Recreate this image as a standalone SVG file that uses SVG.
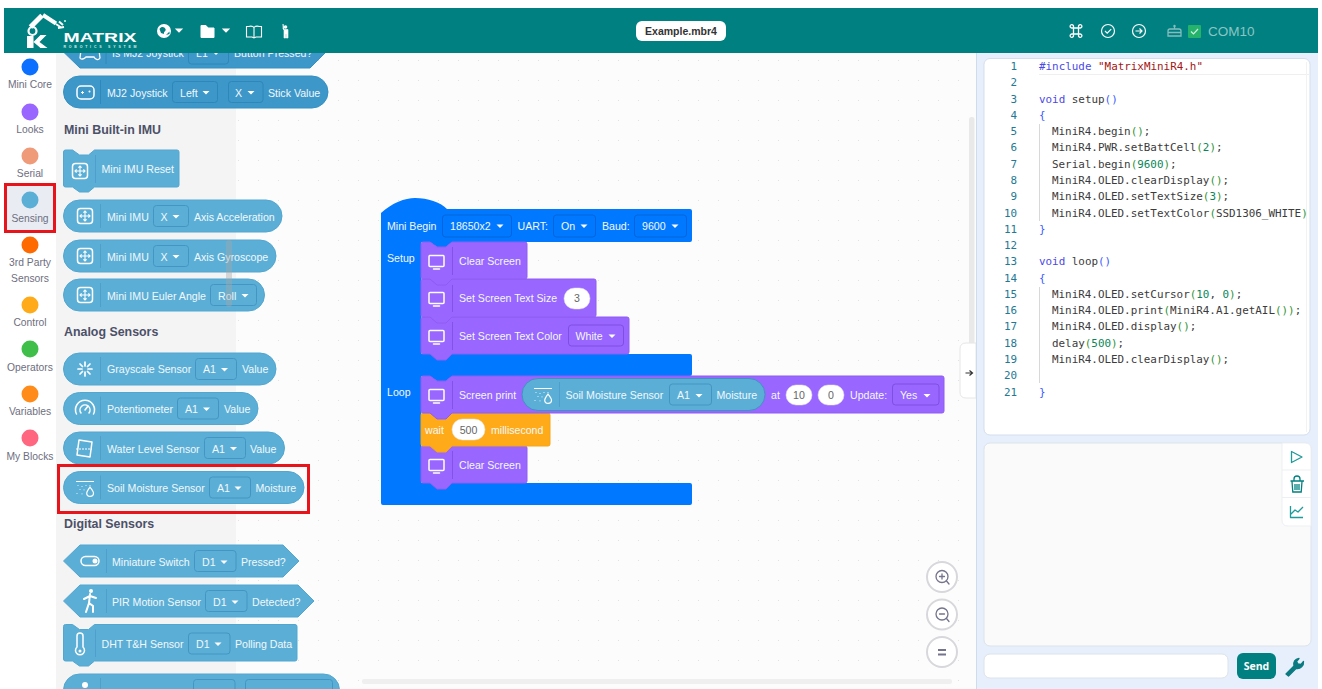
<svg xmlns="http://www.w3.org/2000/svg" width="1322" height="689" viewBox="0 0 1322 689">
<style>
text{font-family:"Liberation Sans",Arial,sans-serif}
.t{font-size:10.6px;fill:#f2f8fc}
.h{font-size:12.4px;font-weight:700;fill:#4c5068}
.r{font-size:10.3px;fill:#6e6e80;text-anchor:middle}
.s{fill:#5bafd6;stroke:#52a6d0;stroke-width:1}
.sd{fill:#3d97c9;stroke:#3690c2;stroke-width:1}
.d{fill:#5bafd6;stroke:#4595c2;stroke-width:1}
.dd{fill:#3d97c9;stroke:#2f86b8;stroke-width:1}
.v{stroke:#4f9fca;stroke-width:1}
.p{fill:#9966ff;stroke:#8f5cf2;stroke-width:1}
.pd{fill:#9966ff;stroke:#7f4fe0;stroke-width:1}
.pv{stroke:#8452e8;stroke-width:1}
.b{fill:#0078ff}
.bd{fill:#0078ff;stroke:#0066da;stroke-width:1}
.i{fill:#fff;stroke:#e4e4ee;stroke-width:.5}
.n{font-size:10.6px;fill:#666;text-anchor:middle}
.c{font-family:"DejaVu Sans Mono","Liberation Mono",monospace;font-size:10.9px;fill:#3b3b3b}
.ln{font-family:"DejaVu Sans Mono","Liberation Mono",monospace;font-size:10.9px;fill:#237893;text-anchor:end}
.kw{fill:#4a4ae8}.st{fill:#a31515}.gr{fill:#319331}.nm{fill:#098658}.bl{fill:#3a5cff}
.w{fill:none;stroke:#fff;stroke-width:1.5;stroke-linecap:round;stroke-linejoin:round}
.red{fill:none;stroke:#e8141c;stroke-width:3}
.z{fill:#fff;stroke:#d8d8dc;stroke-width:2}
.zi{fill:none;stroke:#74748c;stroke-width:1.3;stroke-linecap:round}
.tl{fill:none;stroke:#1f9a9a;stroke-width:1.3;stroke-linejoin:round}
</style>
<defs>
<pattern id="dots" x="18" y="0" width="20" height="20" patternUnits="userSpaceOnUse"><rect width="1" height="1" fill="#e2e2e2"/></pattern>
<path id="caret" d="M-3.500-1.600h7l-3.500 3.600z" fill="#fff"/>
<path id="hcaret" d="M-4.200-2h8.400l-4.200 4.200z" fill="#fff"/>
<g id="mon"><rect x="-7.500" y="-6.500" width="15" height="11" rx="1" class="w"/><path d="M-3 7h6" class="w"/></g>
<g id="imu"><rect x="-7.500" y="-7.500" width="15" height="15" rx="3" class="w"/><path d="M0-5V5M-5 0H5M-1.600-3.400 0-5 1.600-3.400M-1.600 3.400 0 5 1.600 3.400M-3.400-1.600-5 0-3.400 1.600M3.400-1.600 5 0 3.400 1.600" fill="none" stroke="#fff" stroke-width="1.100"/></g>
<g id="soil"><path d="M-9-6.500H9" stroke="#fff" stroke-width="1"/><path d="M-7-3v.8M-3-2v.8M1-3v.8M-5 1v.8M-1 1.500v.8M-8 5v.8M-3 5.500v.8M5-3v.8" stroke="#fff" stroke-width="1" stroke-dasharray="1 1"/><path d="M5-1C7 2 8.500 3.500 8.500 5a3.400 3.400 0 0 1-6.800 0C1.700 3.500 3 2 5-1z" fill="none" stroke="#fff" stroke-width="1.200"/></g>
</defs>

<rect width="1322" height="689" fill="#fff"/>
<g id="canvas"><rect x="236" y="53" width="740" height="636" fill="#fcfcfc"/><rect x="236" y="53" width="740" height="636" fill="url(#dots)"/>
<rect x="969" y="117" width="5.500" height="232" rx="2.500" fill="#e9e9e9"/>
<rect x="362" y="679" width="590" height="5" rx="2" fill="#efefef"/></g>
<rect x="56" y="53" width="180" height="636" fill="#f4f4f4"/>

<g id="rail">
<circle cx="30" cy="67" r="8.500" fill="#0b6fff"/><text class="r" x="30" y="88">Mini Core</text>
<circle cx="30" cy="112" r="8.500" fill="#9966ff"/><text class="r" x="30" y="133">Looks</text>
<circle cx="30" cy="156" r="8.500" fill="#ef9a78"/><text class="r" x="30" y="177">Serial</text>
<rect x="5" y="184" width="50" height="47" fill="#e9edf3"/>
<circle cx="30" cy="200" r="8.500" fill="#5bafd6"/><text class="r" x="30" y="222">Sensing</text>
<circle cx="30" cy="245" r="8.500" fill="#ff6a00"/><text class="r" x="30" y="266">3rd Party</text><text class="r" x="30" y="282">Sensors</text>
<circle cx="30" cy="305" r="8.500" fill="#ffab19"/><text class="r" x="30" y="326">Control</text>
<circle cx="30" cy="349" r="8.500" fill="#3fbf4a"/><text class="r" x="30" y="371">Operators</text>
<circle cx="30" cy="394" r="8.500" fill="#ff8c1a"/><text class="r" x="30" y="415">Variables</text>
<circle cx="30" cy="438" r="8.500" fill="#ff6680"/><text class="r" x="30" y="460">My Blocks</text>
<rect class="red" x="5.500" y="184.500" width="49" height="47"/>
</g>

<g id="palette">
<g id="b-isj"><path class="sd" d="M63.500 52 80 36H310L326 52 310 68H80z"/><path d="M106 44V64" stroke="#3088ba"/><text class="t" x="112" y="57">Is MJ2 Joystick</text><rect class="dd" x="188.500" y="43" width="40" height="21" rx="3"/><text class="t" x="196" y="57">L1</text><use href="#caret" x="216" y="53"/><text class="t" x="234" y="57">Button Pressed?</text><path d="M81 50c3-2 5-1 7 1h4c2-2 5-3 7-1l1 8c-2 3-5 1-6-1h-8c-2 2-5 3-6 1z" fill="none" stroke="#fff" stroke-width="1.300"/></g>
<g id="b-j2"><rect class="sd" x="63.500" y="76" width="264.500" height="32" rx="16"/><path d="M100.500 80V104" stroke="#3088ba"/><rect x="77" y="86" width="17" height="13" rx="4" class="w"/><path d="M81 92.500h3M82.500 91v3" stroke="#fff"/><circle cx="89.500" cy="91.500" r="1" fill="#fff"/>
<text class="t" x="107" y="96.500">MJ2 Joystick</text><rect class="dd" x="172.500" y="81.500" width="45" height="21" rx="3"/><text class="t" x="180" y="96.500">Left</text><use href="#caret" x="206" y="92.500"/><rect class="dd" x="228.500" y="81.500" width="34.500" height="21" rx="3"/><text class="t" x="235" y="96.500">X</text><use href="#caret" x="251" y="92.500"/><text class="t" x="268" y="96.500">Stick Value</text></g>
<text class="h" x="64" y="133.500">Mini Built-in IMU</text>
<g id="b-reset"><path class="s" d="M63.500 152q0-2 2-2h7l7 5h9l6-5H177q2 0 2 2V185q0 2-2 2H94.500l-6 5h-9l-7-5H65.500q-2 0-2-2z"/><path class="v" d="M95.500 155V183"/><use href="#imu" x="80" y="171"/><text class="t" x="101.500" y="173">Mini IMU Reset</text></g>
<g id="b-acc"><rect class="s" x="63.500" y="200" width="218.500" height="32" rx="16"/><path class="v" d="M100.500 204V228"/><use href="#imu" x="85" y="216"/><text class="t" x="107" y="220.500">Mini IMU</text><rect class="d" x="153.500" y="205.500" width="35" height="21" rx="3"/><text class="t" x="160.500" y="220.500">X</text><use href="#caret" x="176" y="216.500"/><text class="t" x="194" y="220.500">Axis Acceleration</text></g>
<g id="b-gyr"><rect class="s" x="63.500" y="240" width="212.500" height="32" rx="16"/><path class="v" d="M100.500 244V268"/><use href="#imu" x="85" y="256"/><text class="t" x="107" y="260.500">Mini IMU</text><rect class="d" x="153.500" y="245.500" width="35" height="21" rx="3"/><text class="t" x="160.500" y="260.500">X</text><use href="#caret" x="176" y="256.500"/><text class="t" x="194" y="260.500">Axis Gyroscope</text></g>
<g id="b-eul"><rect class="s" x="63.500" y="279" width="201" height="32" rx="16"/><path class="v" d="M100.500 283V307"/><use href="#imu" x="85" y="295"/><text class="t" x="107" y="299.500">Mini IMU Euler Angle</text><rect class="d" x="210.500" y="284.500" width="46" height="21" rx="3"/><text class="t" x="218" y="299.500">Roll</text><use href="#caret" x="245" y="295.500"/></g>
<text class="h" x="64" y="336">Analog Sensors</text>
<g id="b-gray"><rect class="s" x="63.500" y="353" width="212.500" height="32" rx="16"/><path class="v" d="M100.500 357V381"/><path d="M85 362v4M85 372v4M78 369h4M88 369h4M80 364l2.500 2.500M87.500 371.500 90 374M80 374l2.500-2.500M87.500 366.500 90 364" stroke="#fff" stroke-width="1.700" stroke-linecap="round"/><text class="t" x="107" y="373">Grayscale Sensor</text><rect class="d" x="195.500" y="358.500" width="41" height="21" rx="3"/><text class="t" x="203" y="373">A1</text><use href="#caret" x="224.500" y="369.500"/><text class="t" x="242" y="373">Value</text></g>
<g id="b-pot"><rect class="s" x="63.500" y="392.500" width="194.500" height="32" rx="16"/><path class="v" d="M100.500 396.500V420.500"/><path d="M76.500 414a9.500 9.500 0 1 1 17 0M81 413a5 5 0 1 1 8 0" class="w"/><path d="M85 410l3-4" class="w"/><text class="t" x="107" y="412.500">Potentiometer</text><rect class="d" x="177.500" y="398" width="41" height="21" rx="3"/><text class="t" x="185" y="412.500">A1</text><use href="#caret" x="206.500" y="409"/><text class="t" x="224" y="412.500">Value</text></g>
<g id="b-wat"><rect class="s" x="63.500" y="432" width="221" height="32" rx="16"/><path class="v" d="M100.500 436V460"/><path d="M79 440l13 2-2 15-13-2z" class="w"/><path d="M76 449h16" fill="none" stroke="#fff" stroke-width="1.200" stroke-dasharray="2 1"/><text class="t" x="107" y="452.500">Water Level Sensor</text><rect class="d" x="204.500" y="437.500" width="41" height="21" rx="3"/><text class="t" x="212" y="452.500">A1</text><use href="#caret" x="233.500" y="448.500"/><text class="t" x="250" y="452.500">Value</text></g>
<g id="b-soil"><rect class="s" x="63.500" y="471.500" width="240.500" height="32" rx="16"/><path class="v" d="M100.500 475.500V499.500"/><use href="#soil" x="85" y="488"/><text class="t" x="107" y="491.500">Soil Moisture Sensor</text><rect class="d" x="209.500" y="477" width="41" height="21" rx="3"/><text class="t" x="217" y="491.500">A1</text><use href="#caret" x="238" y="488"/><text class="t" x="255.500" y="491.500">Moisture</text></g>
<rect class="red" x="58.500" y="465.500" width="250" height="47"/>
<text class="h" x="64" y="528">Digital Sensors</text>
<g id="b-sw"><path class="s" d="M63.500 561 80 545H283L299 561 283 577H80z"/><path class="v" d="M106.500 549V573"/><rect x="81" y="556.500" width="18" height="9" rx="4.500" class="w"/><circle cx="95" cy="561" r="2.500" fill="#fff"/><text class="t" x="112" y="565.500">Miniature Switch</text><rect class="d" x="194.500" y="550.500" width="41.500" height="21" rx="3"/><text class="t" x="202" y="565.500">D1</text><use href="#caret" x="224" y="562"/><text class="t" x="241" y="565.500">Pressed?</text></g>
<g id="b-pir"><path class="s" d="M63.500 601 80 585H298L314 601 298 617H80z"/><path class="v" d="M106.500 589V613"/><circle cx="91" cy="591" r="2" fill="#fff"/><path d="M90 594 89 603 86 612M89 603 93 606 93 612M90 596 84 599M90 596 96 598" fill="none" stroke="#fff" stroke-width="2" stroke-linecap="round"/><text class="t" x="112" y="605.500">PIR Motion Sensor</text><rect class="d" x="205.500" y="590.500" width="41.500" height="21" rx="3"/><text class="t" x="213" y="605.500">D1</text><use href="#caret" x="235" y="602"/><text class="t" x="252" y="605.500">Detected?</text></g>
<g id="b-dht"><path class="s" d="M63.500 626.500q0-2 2-2h7l7 5h9l6-5H295q2 0 2 2V659q0 2-2 2H94.500l-6 5h-9l-7-5H65.500q-2 0-2-2z"/><path class="v" d="M95.500 629.500V657"/><path d="M77 636a3 3 0 0 1 6 0v11a4.500 4.500 0 1 1-6 0z" class="w"/><circle cx="80" cy="651" r="1.500" fill="#fff"/><text class="t" x="101.500" y="648">DHT T&amp;H Sensor</text><rect class="d" x="188.500" y="633" width="41.500" height="21" rx="3"/><text class="t" x="196" y="648">D1</text><use href="#caret" x="218" y="644"/><text class="t" x="235" y="648">Polling Data</text></g>
<g id="b-next"><rect class="s" x="63.500" y="674" width="276" height="32" rx="16"/><path class="v" d="M100.500 678V689"/><rect class="d" x="193.500" y="679.500" width="41.500" height="21" rx="3"/><rect class="d" x="245.500" y="679.500" width="87" height="21" rx="3"/><circle cx="85" cy="685" r="3" fill="#fff"/></g>
<rect x="226" y="240" width="6" height="67" rx="3" fill="#a8a8a8" opacity=".4"/>
</g>

<g id="header"><rect x="4" y="8" width="1314" height="45" fill="#008080"/>
<g id="logo"><path d="M27 36h6.500v12H27zM33.500 42l7-7h6l-7 7 8 6h-7z" fill="#fff"/><path d="M30.500 27 42 15.500" fill="none" stroke="#fff" stroke-width="5"/><circle cx="32.500" cy="31" r="4" fill="none" stroke="#fff" stroke-width="2.200"/><path d="M43 15 56 23.500" fill="none" stroke="#fff" stroke-width="4"/><path d="M56 24l5 3.500M59 21.500l4 3.500M58 28l6-1" fill="none" stroke="#fff" stroke-width="2"/><circle cx="65" cy="21" r="1" fill="#cfe"/>
<text x="63.500" y="42" font-size="13.500" font-weight="700" fill="#fff" textLength="73" lengthAdjust="spacingAndGlyphs">MATRIX</text><text x="63.500" y="47.500" font-size="3.500" font-weight="700" fill="#d8ecec" textLength="73">ROBOTICS SYSTEM</text></g>
<g id="h-globe"><circle cx="164" cy="31" r="7" fill="#fff"/><path d="M159.500 29c2-3 5-2 6 0s-2 2-1.500 5l-3-1zM166 35l3.500-3.500V34z" fill="#008080"/><use href="#hcaret" x="179" y="30.500"/></g>
<g id="h-folder"><path d="M201 25.500h5l2 2.500h6v9.500h-13z" fill="#fff" stroke="#fff" stroke-linejoin="round"/><use href="#hcaret" x="226" y="30.500"/></g>
<path id="h-book" d="M248.500 26.500q4-1 5.500 1 1.500-2 5.500-1H261.500V37H256l-2 1-2-1h-5.500V26.500zM254 27.500V37.500" fill="none" stroke="#fff" stroke-width="1.100"/>
<g id="h-fig"><circle cx="285.500" cy="27" r="1.800" fill="#fff"/><path d="M283 24v5l1 1v8h1.700v-4h.6v4H288v-8.500h-4z" fill="#fff" stroke="#fff" stroke-width=".6"/></g>
<g id="h-file"><rect x="636" y="21" width="90" height="20" rx="6" fill="#fff"/><text x="681" y="35" font-size="10.500" font-weight="700" fill="#333" text-anchor="middle">Example.mbr4</text></g>
<path id="h-cmd" d="M1073.500 28h5v6h-5zM1073.500 28h-1.500a1.700 1.700 0 1 1 1.500-1.500zM1078.500 28v-1.500a1.700 1.700 0 1 1 1.500 1.500zM1078.500 34h1.500a1.700 1.700 0 1 1-1.500 1.500zM1073.500 34v1.500a1.700 1.700 0 1 1-1.500-1.500z" fill="none" stroke="#fff" stroke-width="1.300"/>
<g id="h-chk"><circle cx="1108" cy="31" r="6.500" fill="none" stroke="#fff" stroke-width="1.200"/><path d="M1105 31l2.200 2.200 4-4" fill="none" stroke="#fff" stroke-width="1.200"/></g>
<g id="h-go"><circle cx="1139" cy="31" r="6.500" fill="none" stroke="#fff" stroke-width="1.200"/><path d="M1135.500 31h6.500M1139.500 28.500l2.500 2.500-2.500 2.500" fill="none" stroke="#fff" stroke-width="1.200"/></g>
<g id="h-com"><path d="M1170 29h9a2 2 0 0 1 2 2v5h-13v-5a2 2 0 0 1 2-2zM1168 32.500h13M1174.500 29v-3" fill="none" stroke="#84bdbd" stroke-width="1.300"/><circle cx="1174.500" cy="26" r="1.200" fill="#84bdbd"/><rect x="1188" y="25" width="13" height="13" rx="1" fill="#25b36b"/><path d="M1191 31.500l2.500 2.500 4.500-5" fill="none" stroke="#cdeee0" stroke-width="1.200"/><text x="1208" y="36" font-size="13.500" fill="#8cc5c5">COM10</text></g>
</g>

<g id="program">
<path id="hat" class="b" d="M381 213C392 203 405 198 415 198 428 198 440 202 447 209H690q2 0 2 2V240q0 2-2 2H452l-6 5h-9l-7-5H421V354H690q2 0 2 2V374q0 2-2 2H452l-6 5h-9l-7-5H421V483H690q2 0 2 2V503q0 2-2 2H383q-2 0-2-2z"/>
<g fill="#fff"><text class="t" x="387" y="230">Mini Begin</text><rect class="bd" x="442.500" y="215" width="69" height="22" rx="3"/><text class="t" x="450" y="230">18650x2</text><use href="#caret" x="500" y="226"/><text class="t" x="517.500" y="230">UART:</text><rect class="bd" x="553.500" y="215" width="42" height="22" rx="3"/><text class="t" x="561" y="230">On</text><use href="#caret" x="584" y="226"/><text class="t" x="602" y="230">Baud:</text><rect class="bd" x="634.500" y="215" width="52" height="22" rx="3"/><text class="t" x="642" y="230">9600</text><use href="#caret" x="675" y="226"/><text class="t" x="387" y="262">Setup</text><text class="t" x="387" y="396">Loop</text></g>
<g id="s-col"><path class="p" d="M421 319q0-2 2-2h7l7 5h9l6-5H627q2 0 2 2V352q0 2-2 2H452l-6 6h-9l-7-6H423q-2 0-2-2z"/><path class="pv" d="M452.500 322V350"/><use href="#mon" x="436.500" y="337"/><text class="t" x="459" y="340">Set Screen Text Color</text><rect class="pd" x="568.500" y="325" width="55" height="21" rx="3"/><text class="t" x="575.500" y="340">White</text><use href="#caret" x="612" y="336"/></g>
<g id="s-size"><path class="p" d="M421 281q0-2 2-2h7l7 5h9l6-5H594q2 0 2 2V315q0 2-2 2H452l-6 6h-9l-7-6H423q-2 0-2-2z"/><path class="pv" d="M452.500 285V312"/><use href="#mon" x="436.500" y="299"/><text class="t" x="459" y="302">Set Screen Text Size</text><rect class="i" x="564" y="288" width="26" height="21" rx="10.500"/><text class="n" x="577" y="302">3</text></g>
<g id="s-clr"><path class="p" d="M421 244q0-2 2-2h7l7 5h9l6-5H525q2 0 2 2V277q0 2-2 2H452l-6 6h-9l-7-6H423q-2 0-2-2z"/><path class="pv" d="M452.500 247V275"/><use href="#mon" x="436.500" y="262"/><text class="t" x="459" y="264.500">Clear Screen</text></g>
<g id="l-clr"><path class="p" d="M421 448q0-2 2-2h7l7 5h9l6-5H525q2 0 2 2V481q0 2-2 2H452l-6 6h-9l-7-6H423q-2 0-2-2z"/><path class="pv" d="M452.500 451V479"/><use href="#mon" x="436.500" y="466"/><text class="t" x="459" y="468.500">Clear Screen</text></g>
<g id="l-wait"><path d="M421 415q0-2 2-2h7l7 5h9l6-5H548q2 0 2 2V444q0 2-2 2H452l-6 6h-9l-7-6H423q-2 0-2-2z" fill="#ffab19" stroke="#f5a515"/><text class="t" x="425" y="433.500">wait</text><rect class="i" x="452" y="419" width="33" height="21" rx="10.500"/><text class="n" x="468.500" y="433.500">500</text><text class="t" x="491" y="433.500">millisecond</text></g>
<g id="l-print"><path class="p" d="M421 378q0-2 2-2h7l7 5h9l6-5H942q2 0 2 2V411q0 2-2 2H452l-6 6h-9l-7-6H423q-2 0-2-2z"/><path class="pv" d="M452.500 381V409"/><use href="#mon" x="436.500" y="396"/><text class="t" x="459" y="399">Screen print</text>
<rect class="s" style="stroke:#3f93c0" x="522" y="378.500" width="243" height="32" rx="16"/><path class="v" d="M559.500 382V407"/><use href="#soil" x="543" y="395"/><text class="t" x="565.500" y="399">Soil Moisture Sensor</text><rect class="d" x="669.500" y="384" width="42" height="21" rx="3"/><text class="t" x="677" y="399">A1</text><use href="#caret" x="699" y="395.500"/><text class="t" x="716.500" y="399">Moisture</text>
<text class="t" x="771" y="399">at</text><rect class="i" x="786" y="385" width="26" height="20" rx="10"/><text class="n" x="799" y="399">10</text><rect class="i" x="818" y="385" width="26" height="20" rx="10"/><text class="n" x="831" y="399">0</text><text class="t" x="850" y="399">Update:</text><rect class="pd" x="892.500" y="384" width="46.500" height="21" rx="3"/><text class="t" x="900" y="399">Yes</text><use href="#caret" x="927" y="395.500"/></g>
</g>

<g id="tab"><path d="M976 343H966q-6 0-6 6V392q0 6 6 6H976z" fill="#fff" stroke="#e6e6e6"/><path d="M965.500 373H972M969.500 370.500 972.500 373 969.500 375.500" fill="none" stroke="#333" stroke-width="1.200"/></g>
<g id="zoom"><circle class="z" cx="942" cy="577" r="15"/><circle class="zi" cx="942" cy="576.500" r="6"/><path class="zi" d="M946.500 581 949 584M939.500 576.500h5M942 574v5"/><circle class="z" cx="942" cy="614.500" r="15"/><circle class="zi" cx="942" cy="614" r="6"/><path class="zi" d="M946.500 618.500 949 621.500M939.500 614h5"/><circle class="z" cx="942" cy="652" r="15"/><path d="M938 650h8M938 654.500h8" fill="none" stroke="#74748c" stroke-width="1.800"/></g>

<g id="right"><rect x="976" y="53" width="342" height="636" fill="#e6effb"/><path d="M976.500 53V689" stroke="#cfdcee"/>
<g id="code"><rect x="984" y="58.500" width="326" height="376.500" rx="6" fill="#fff" stroke="#d5dfec"/><path d="M1039 74.500H1310" stroke="#efefef"/><path d="M1306.500 62V432" stroke="#f2f2f2" stroke-width="1"/><path d="M1039.500 124V221M1039.500 287V383" stroke="#d8d8d8"/>
<text class="ln" x="1017" y="70">1</text><text class="c" x="1039" y="70"><tspan class="kw">#include</tspan> <tspan class="st">"MatrixMiniR4.h"</tspan></text>
<text class="ln" x="1017" y="86.300">2</text>
<text class="ln" x="1017" y="102.600">3</text><text class="c" x="1039" y="102.600"><tspan class="kw">void</tspan> setup<tspan class="bl">()</tspan></text>
<text class="ln" x="1017" y="118.800">4</text><text class="c" style="fill:#3a5cff" x="1039" y="118.800">{</text>
<text class="ln" x="1017" y="135.100">5</text><text class="c" x="1052" y="135.100">MiniR4.begin<tspan class="gr">()</tspan>;</text>
<text class="ln" x="1017" y="151.400">6</text><text class="c" x="1052" y="151.400">MiniR4.PWR.setBattCell<tspan class="gr">(</tspan><tspan class="nm">2</tspan><tspan class="gr">)</tspan>;</text>
<text class="ln" x="1017" y="167.700">7</text><text class="c" x="1052" y="167.700">Serial.begin<tspan class="gr">(</tspan><tspan class="nm">9600</tspan><tspan class="gr">)</tspan>;</text>
<text class="ln" x="1017" y="183.900">8</text><text class="c" x="1052" y="183.900">MiniR4.OLED.clearDisplay<tspan class="gr">()</tspan>;</text>
<text class="ln" x="1017" y="200.200">9</text><text class="c" x="1052" y="200.200">MiniR4.OLED.setTextSize<tspan class="gr">(</tspan><tspan class="nm">3</tspan><tspan class="gr">)</tspan>;</text>
<text class="ln" x="1017" y="216.500">10</text><text class="c" x="1052" y="216.500">MiniR4.OLED.setTextColor<tspan class="gr">(</tspan>SSD1306_WHITE<tspan class="gr">)</tspan></text>
<text class="ln" x="1017" y="232.800">11</text><text class="c" style="fill:#3a5cff" x="1039" y="232.800">}</text>
<text class="ln" x="1017" y="249">12</text>
<text class="ln" x="1017" y="265.300">13</text><text class="c" x="1039" y="265.300"><tspan class="kw">void</tspan> loop<tspan class="bl">()</tspan></text>
<text class="ln" x="1017" y="281.600">14</text><text class="c" style="fill:#3a5cff" x="1039" y="281.600">{</text>
<text class="ln" x="1017" y="297.900">15</text><text class="c" x="1052" y="297.900">MiniR4.OLED.setCursor<tspan class="gr">(</tspan><tspan class="nm">10</tspan>, <tspan class="nm">0</tspan><tspan class="gr">)</tspan>;</text>
<text class="ln" x="1017" y="314.100">16</text><text class="c" x="1052" y="314.100">MiniR4.OLED.print<tspan class="gr">(</tspan>MiniR4.A1.getAIL<tspan class="gr">())</tspan>;</text>
<text class="ln" x="1017" y="330.400">17</text><text class="c" x="1052" y="330.400">MiniR4.OLED.display<tspan class="gr">()</tspan>;</text>
<text class="ln" x="1017" y="346.700">18</text><text class="c" x="1052" y="346.700">delay<tspan class="gr">(</tspan><tspan class="nm">500</tspan><tspan class="gr">)</tspan>;</text>
<text class="ln" x="1017" y="363">19</text><text class="c" x="1052" y="363">MiniR4.OLED.clearDisplay<tspan class="gr">()</tspan>;</text>
<text class="ln" x="1017" y="379.200">20</text>
<text class="ln" x="1017" y="395.500">21</text><text class="c" style="fill:#3a5cff" x="1039" y="395.500">}</text>
</g>
<g id="console"><rect x="984" y="443" width="327" height="203" rx="6" fill="#fafafa" stroke="#dde3ea"/><path d="M1282 443H1305q6 0 6 6V526H1288q-6 0-6-6z" fill="#fff" stroke="#eceff3"/><path d="M1282 470H1311M1282 497.500H1311" stroke="#eceff3"/>
<path class="tl" d="M1291.500 451.500V462.500L1302 457z"/>
<path d="M1290.500 481H1304M1292 481.500l.8 10.500h8.400l.8-10.500M1294 481v-2a3 3 0 0 1 6 0v2M1295 484v6M1297 484v6M1299 484v6" fill="none" stroke="#008080" stroke-width="1.300"/>
<path class="tl" d="M1290.500 506V517.500H1303M1291 514l4-4 3 2 5-5"/></g>
<rect x="984" y="654" width="244" height="24" rx="6" fill="#fff" stroke="#dde3ea"/>
<g id="send"><rect x="1237" y="653" width="39" height="26" rx="6" fill="#008080"/><text x="1256.500" y="670" font-size="10.500" font-weight="700" fill="#fff" text-anchor="middle" style="font-family:'Open Sans',sans-serif">Send</text></g>
<path id="wrench" d="M1286 674l8-8c-1-4 1-7 5-7.500l-2.500 3 1.500 2.500 3 .5 2.500-3c.5 4-3 8-7.500 7l-7.500 7.500z" fill="#0b7a80" stroke="#0b7a80" stroke-width="1.300" stroke-linejoin="round"/>
</g>
</svg>
